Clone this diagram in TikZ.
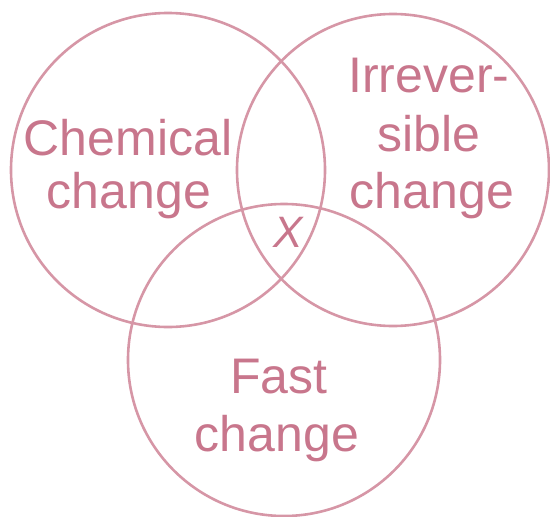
\documentclass[tikz,border=0pt]{standalone}
\usepackage{fontspec}
\setmainfont{Liberation Sans}
\definecolor{ring}{RGB}{214,150,166}
\definecolor{ink}{RGB}{200,118,140}
\tikzset{
  ringline/.style={draw=ring, line width=2.6pt},
  lbl/.style={text=ink, font=\fontsize{50}{58}\selectfont, anchor=base, inner sep=0pt},
}
\begin{document}
\begin{tikzpicture}[x=1pt,y=-1pt]
\useasboundingbox (0,0) rectangle (550,517);
\draw[ringline] (168,170) circle [radius=157pt];
\draw[ringline] (393,170) circle [radius=156pt];
\draw[ringline] (284,360) circle [radius=156pt];
\node[lbl] (chem1) at (128,155) {Chemical};
\node[lbl] (chem2) at (129,208) {change};
\node[lbl] (irr1) at (429,92) {Irrever-};
\node[lbl] (irr2) at (429,151) {sible};
\node[lbl] (irr3) at (432,208) {change};
\node[lbl] (fast1) at (279,393) {Fast};
\node[lbl] (fast2) at (277,451) {change};
\node[text=ink, font=\fontsize{44}{50}\selectfont\itshape, anchor=base, inner sep=0pt] (x) at (288,247) {X};
\end{tikzpicture}
\end{document}
